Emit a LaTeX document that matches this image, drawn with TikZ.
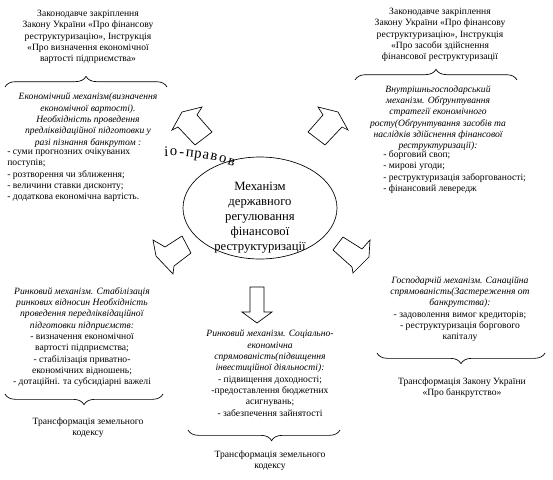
\documentclass[tikz,border=0pt]{standalone}
\usepackage{fontspec}
\setmainfont{Liberation Serif}
\usetikzlibrary{shapes.geometric,decorations.pathreplacing}

\tikzset{
  txt/.style={font=\fontsize{7.2}{8.5}\selectfont, align=center, inner sep=0pt},
  lst/.style={font=\fontsize{7.2}{8.5}\selectfont, align=left, inner sep=0pt, anchor=west},
  brc/.style={decorate, decoration={brace, amplitude=8pt}, line width=0.5pt},
  blockarrow/.style={draw, line width=0.5pt, line join=miter},
}

\begin{document}
\begin{tikzpicture}[x=0.75pt, y=-0.75pt]
\useasboundingbox (0,0) rectangle (553,479);

% top left
\node[txt] (lawTL) at (88,37) {Законодавче закріплення\\ Закону України «Про фінансову\\ реструктуризацію», Інструкція\\ «Про визначення економічної\\ вартості підприємства»};
\draw[brc] (5,87) -- (167,87);
\node[txt, font=\fontsize{7.2}{8.5}\selectfont\itshape] (mechTL) at (88,120) {Економічний механізм(визначення\\ економічної вартості).\\ Необхідність проведення\\ предліквідаційної підготовки у\\ разі пізнання банкрутом :};
\node[lst] (listTL) at (7,175) {- суми прогнозних очікуваних\\ поступів;\\ - розтворення чи зближення;\\ - величини ставки дисконту;\\ - додаткова економічна вартість.};

% top right
\node[txt] (lawTR) at (440,35) {Законодавче закріплення\\ Закону України «Про фінансову\\ реструктуризацію», Інструкція\\ «Про засоби здійснення\\ фінансової реструктуризації};
\draw[brc] (355,80) -- (517,80);
\node[txt, font=\fontsize{7.2}{8.5}\selectfont\itshape] (mechTR) at (438,118) {Внутрішньгосподарський\\ механізм. Обґрунтування\\ стратегії економічного\\ росту(Обґрунтування засобів та\\ наслідків здійснення фінансової\\ реструктуризації):};
\node[lst] (listTR) at (383,172) {- борговий своп;\\ - мирові угоди;\\ - реструктуризація заборгованості;\\ - фінансовий левередж};

% centre
\node[draw, ellipse, line width=0.5pt, minimum width=115.5pt, minimum height=76.5pt, inner sep=0pt] (mech) at (260,208) {};
\node[font=\fontsize{9.5}{11.25}\selectfont, align=center, inner sep=0pt] (mechtxt) at (260,218) {Механізм\\ державного\\ регулювання\\ фінансової\\ реструктуризації};
\foreach \ch/\s [count=\i] in {і/0,о/7,-/15,п/23,р/31,а/39,в/47,о/56,в/65}
  \node[font=\fontsize{11}{13}\selectfont, inner sep=0pt, anchor=base, rotate={-(\s*0.2865-1)}] (arc\i) at ({170+200*sin(\s*0.2865-1)},{356-200*cos(\s*0.2865-1)}) {\ch};

% arrows
\draw[blockarrow] (202,107) -- (182,112) -- (172,130) -- (178,127) -- (195,145) -- (212,132) -- (197,115) -- cycle;
\draw[blockarrow] (318,107) -- (338,112) -- (348,130) -- (342,127) -- (325,145) -- (308,132) -- (323,115) -- cycle;
\draw[blockarrow] (153,240) -- (156,256) -- (173,274) -- (174,266) -- (191,253) -- (182,236) -- (165,247) -- cycle;
\draw[blockarrow] (370,240) -- (369,257) -- (353,273) -- (352,267) -- (333,250) -- (343,237) -- (362,249) -- cycle;
\draw[blockarrow] (250,287) -- (264,287) -- (264,312) -- (272,312) -- (257,323) -- (242,312) -- (250,312) -- cycle;

% bottom left
\node[txt] (mechBL) at (82,337) {\textit{Ринковий механізм. Стабілізація}\\ \textit{ринкових відносин Необхідність}\\ \textit{проведення передліквідаційної}\\ \textit{підготовки підприємств:}\\ - визначення економічної\\ вартості підприємства;\\ - стабілізація приватно-\\ економічних відношень;\\ - дотаційні. та субсидіарні важелі};
\draw[brc] (163,394) -- (5,394);
\node[txt] (lawBL) at (88,428) {Трансформація земельного\\ кодексу};

% bottom centre
\node[txt] (mechBC) at (270,373) {\textit{Ринковий механізм. Соціально-}\\ \textit{економічна}\\ \textit{спрямованість(підвищення}\\ \textit{інвестиційної діяльності):}\\ - підвищення доходності;\\ -предоставлення бюджетних\\ асигнувань;\\ - забезпечення зайнятості};
\draw[brc, decoration={aspect=0.45}] (340,430) -- (188,430);
\node[txt] (lawBC) at (270,461) {Трансформація земельного\\ кодексу};

% bottom right
\node[txt] (mechBR) at (460,309) {\textit{Господарчій механізм. Санаційна}\\ \textit{спрямованість(Застереження от}\\ \textit{банкрутства):}\\ - задоволення вимог кредиторів;\\ - реструктуризація боргового\\ капіталу};
\draw[brc] (545,353) -- (377,353);
\node[txt] (lawBR) at (462,388) {Трансформація Закону України\\ «Про банкрутство»};
\end{tikzpicture}
\end{document}
